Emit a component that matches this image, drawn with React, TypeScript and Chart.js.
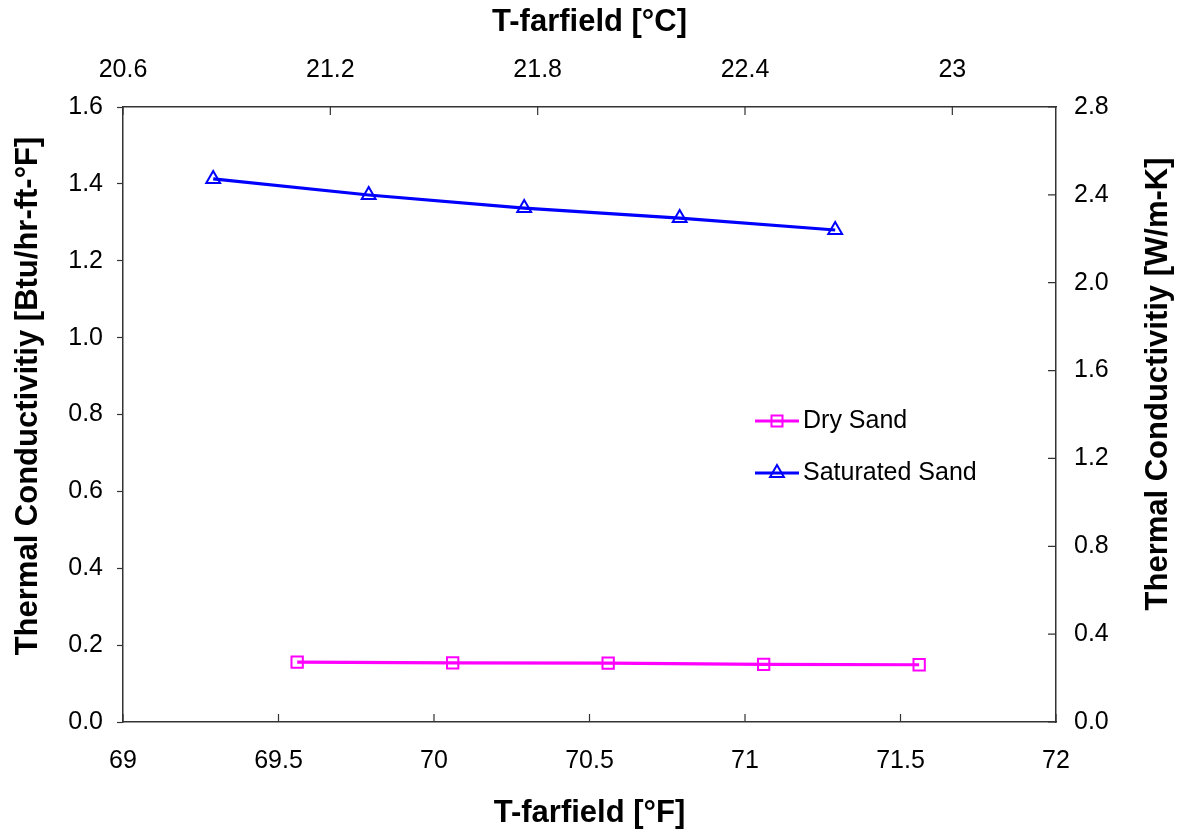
import React, { useEffect, useRef } from "react";
import { Chart, registerables } from "chart.js";

Chart.register(...registerables);

// ---- data ----
const SERIES_NAMES = ["Dry Sand", "Saturated Sand"];
const DRY_X = [69.56, 70.06, 70.56, 71.06, 71.56];
const DRY_Y = [0.156, 0.154, 0.153, 0.15, 0.149];
const SAT_X = [69.29, 69.79, 70.29, 70.79, 71.29];
const SAT_Y = [1.413, 1.371, 1.337, 1.311, 1.28];

const X_F_TICKS = [69, 69.5, 70, 70.5, 71, 71.5, 72];
const X_C_TICKS = [20.6, 21.2, 21.8, 22.4, 23];
const Y_LEFT_TICKS = [0, 0.2, 0.4, 0.6, 0.8, 1.0, 1.2, 1.4, 1.6];
const Y_RIGHT_TICKS = [0, 0.4, 0.8, 1.2, 1.6, 2.0, 2.4, 2.8];

const X_F_RANGE = [69, 72];
const X_C_RANGE = [20.6, 23.3];
const Y_LEFT_RANGE = [0, 1.6];
const Y_RIGHT_RANGE = [0, 2.8];

const X_F_TITLE = "T-farfield [°F]";
const X_C_TITLE = "T-farfield [°C]";
const Y_LEFT_TITLE = "Thermal Conductivitiy [Btu/hr-ft-°F]";
const Y_RIGHT_TITLE = "Thermal Conductivitiy [W/m-K]";

const DRY_COLOR = "#FF00FF";
const SAT_COLOR = "#0000FF";
const AXIS_COLOR = "#333333";
const FONT = "'Liberation Sans', Arial, sans-serif";
const TITLE_SIZE = 31;
const TICK_SIZE = 25;

const setTicks = (vals: number[]) => (scale: any) => {
  scale.ticks = vals.map((v) => ({ value: v }));
};

const drawVerticalTitle = (ctx: any, text: string, x: number, y: number) => {
  ctx.save();
  ctx.fillStyle = "#000";
  ctx.font = `bold ${TITLE_SIZE}px ${FONT}`;
  ctx.textAlign = "center";
  ctx.textBaseline = "middle";
  ctx.translate(x, y);
  ctx.rotate(-Math.PI / 2);
  ctx.fillText(text, 0, 0);
  ctx.restore();
};

const inwardTicks = {
  id: "inwardTicks",
  afterDraw(chart: any) {
    const ctx = chart.ctx;
    const { right, top, bottom } = chart.chartArea;
    const len = 8;
    ctx.save();
    ctx.strokeStyle = AXIS_COLOR;
    ctx.lineWidth = 1.2;
    ctx.beginPath();
    const xs = chart.scales.x;
    xs.ticks.forEach((t: any) => {
      const p = xs.getPixelForValue(t.value);
      ctx.moveTo(p, bottom);
      ctx.lineTo(p, bottom - len);
    });
    const x2 = chart.scales.x2;
    x2.ticks.forEach((t: any) => {
      const p = x2.getPixelForValue(t.value);
      ctx.moveTo(p, top);
      ctx.lineTo(p, top + len);
    });
    const y2 = chart.scales.y2;
    y2.ticks.forEach((t: any) => {
      const p = y2.getPixelForValue(t.value);
      ctx.moveTo(right, p);
      ctx.lineTo(right - len, p);
    });
    ctx.stroke();
    ctx.restore();

    // vertical axis titles, reading bottom-to-top
    drawVerticalTitle(ctx, Y_LEFT_TITLE, 28, 396);
    drawVerticalTitle(ctx, Y_RIGHT_TITLE, 1158, 384);

    // legend
    const items = [
      { label: SERIES_NAMES[0], color: DRY_COLOR, shape: "rect", y: 421 },
      { label: SERIES_NAMES[1], color: SAT_COLOR, shape: "tri", y: 473 },
    ];
    ctx.save();
    items.forEach((it) => {
      ctx.strokeStyle = it.color;
      ctx.lineWidth = 3;
      ctx.beginPath();
      ctx.moveTo(755, it.y);
      ctx.lineTo(799, it.y);
      ctx.stroke();
      ctx.lineWidth = 2;
      ctx.beginPath();
      const cx = 777;
      if (it.shape === "rect") {
        ctx.rect(cx - 5.5, it.y - 5.5, 11, 11);
      } else {
        const r = 8;
        ctx.moveTo(cx, it.y - r);
        ctx.lineTo(cx + r * 0.866, it.y + r * 0.5);
        ctx.lineTo(cx - r * 0.866, it.y + r * 0.5);
        ctx.closePath();
      }
      ctx.stroke();
      ctx.fillStyle = "#000";
      ctx.font = `${TICK_SIZE}px ${FONT}`;
      ctx.textAlign = "left";
      ctx.textBaseline = "middle";
      ctx.fillText(it.label, 803, it.y);
    });
    ctx.restore();
  },
};

export default function App() {
  const ref = useRef<HTMLCanvasElement | null>(null);

  useEffect(() => {
    document.body.style.margin = "0";
    const canvas = ref.current;
    if (!canvas) return;
    const tickFont = { family: FONT, size: TICK_SIZE };
    const titleFont = { family: FONT, size: TITLE_SIZE, weight: "bold" as const };
    const chart = new Chart(canvas, {
      type: "line",
      data: {
        datasets: [
          {
            label: SERIES_NAMES[0],
            data: DRY_X.map((x, i) => ({ x, y: DRY_Y[i] })),
            borderColor: DRY_COLOR,
            backgroundColor: "rgba(0,0,0,0)",
            borderWidth: 3.2,
            pointStyle: "rect",
            pointRadius: 8,
            pointBorderWidth: 2,
            pointBorderColor: DRY_COLOR,
            pointBackgroundColor: "rgba(0,0,0,0)",
            tension: 0,
            xAxisID: "x",
            yAxisID: "y",
          },
          {
            label: SERIES_NAMES[1],
            data: SAT_X.map((x, i) => ({ x, y: SAT_Y[i] })),
            borderColor: SAT_COLOR,
            backgroundColor: "rgba(0,0,0,0)",
            borderWidth: 3.2,
            pointStyle: "triangle",
            pointRadius: 8,
            pointBorderWidth: 2,
            pointBorderColor: SAT_COLOR,
            pointBackgroundColor: "rgba(0,0,0,0)",
            tension: 0,
            xAxisID: "x",
            yAxisID: "y",
          },
        ],
      },
      options: {
        animation: false,
        responsive: true,
        maintainAspectRatio: false,
        layout: { padding: 0 },
        plugins: { legend: { display: false }, tooltip: { enabled: false } },
        scales: {
          x: {
            type: "linear",
            position: "bottom",
            min: X_F_RANGE[0],
            max: X_F_RANGE[1],
            afterBuildTicks: setTicks(X_F_TICKS),
            afterFit: (s: any) => { s.height = 111; },
            grid: { drawOnChartArea: false, drawTicks: false },
            border: { display: true, color: AXIS_COLOR, width: 1.5 },
            ticks: { font: tickFont, color: "#000", padding: 24, maxRotation: 0, callback: (v: any) => String(Number(v)) },
            title: { display: true, text: X_F_TITLE, font: titleFont, color: "#000", padding: { top: 0, bottom: 1 } },
          },
          x2: {
            type: "linear",
            position: "top",
            min: X_C_RANGE[0],
            max: X_C_RANGE[1],
            afterBuildTicks: setTicks(X_C_TICKS),
            afterFit: (s: any) => { s.height = 107; },
            grid: { drawOnChartArea: false, drawTicks: false },
            border: { display: true, color: AXIS_COLOR, width: 1.5 },
            ticks: { font: tickFont, color: "#000", padding: 22, maxRotation: 0, callback: (v: any) => String(Number(v)) },
            title: { display: true, text: X_C_TITLE, font: titleFont, color: "#000", padding: { top: 4, bottom: 0 } },
          },
          y: {
            type: "linear",
            position: "left",
            min: Y_LEFT_RANGE[0],
            max: Y_LEFT_RANGE[1],
            afterBuildTicks: setTicks(Y_LEFT_TICKS),
            afterFit: (s: any) => { s.width = 123; },
            grid: { drawOnChartArea: false, drawTicks: true, tickLength: 6, color: AXIS_COLOR, tickWidth: 1.2 },
            border: { display: true, color: AXIS_COLOR, width: 1.5 },
            ticks: { font: tickFont, color: "#000", padding: 14, callback: (v: any) => Number(v).toFixed(1) },
            title: { display: false },
          },
          y2: {
            type: "linear",
            position: "right",
            min: Y_RIGHT_RANGE[0],
            max: Y_RIGHT_RANGE[1],
            afterBuildTicks: setTicks(Y_RIGHT_TICKS),
            afterFit: (s: any) => { s.width = 125; },
            grid: { drawOnChartArea: false, drawTicks: false },
            border: { display: true, color: AXIS_COLOR, width: 1.5 },
            ticks: { font: tickFont, color: "#000", padding: 18, callback: (v: any) => Number(v).toFixed(1) },
            title: { display: false },
          },
        },
      },
      plugins: [inwardTicks],
    });
    return () => chart.destroy();
  }, []);

  return (
    <div style={{ position: "relative", width: 1181, height: 833 }}>
      <canvas ref={ref} />
    </div>
  );
}
